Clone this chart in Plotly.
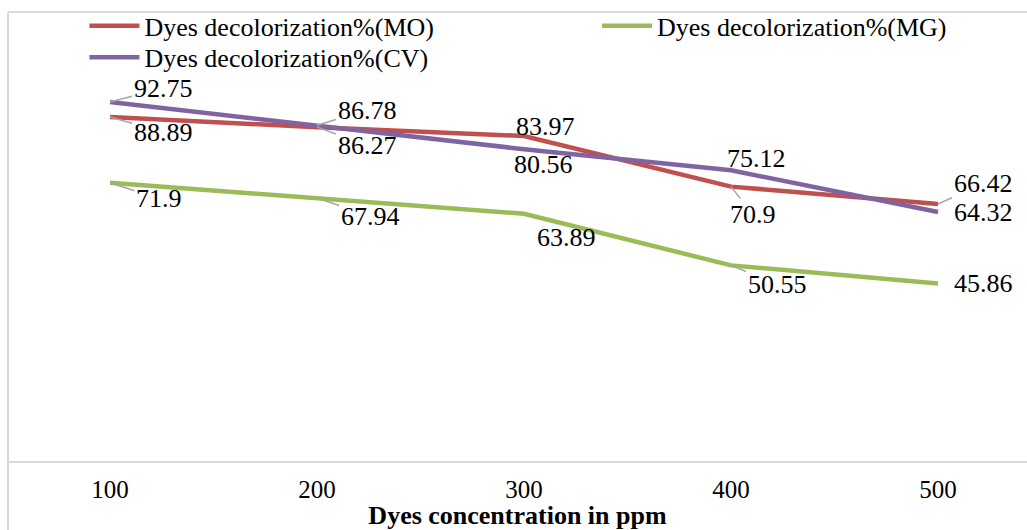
import plotly.graph_objects as go

concentration = [100, 200, 300, 400, 500]
mo_values = [88.89, 86.27, 83.97, 70.9, 66.42]
mg_values = [71.9, 67.94, 63.89, 50.55, 45.86]
cv_values = [92.75, 86.78, 80.56, 75.12, 64.32]
tick_labels = ["100", "200", "300", "400", "500"]

series_names = ["Dyes decolorization%(MO)", "Dyes decolorization%(MG)", "Dyes decolorization%(CV)"]
colors = ["#c0504d", "#9bbb59", "#8064a2"]
legend_ids = ["legend", "legend2", "legend3"]

FONT = "Liberation Serif, Times New Roman, serif"

fig = go.Figure()
for name, vals, col, lg in zip(series_names, [mo_values, mg_values, cv_values], colors, legend_ids):
    fig.add_trace(go.Scatter(x=concentration, y=vals, mode="lines", name=name, legend=lg,
                             line=dict(color=col, width=4.5), hoverinfo="skip"))

# label placement: (series values, index, ax, ay, leader)
label_specs = [
    (cv_values, 0, 53, -14, True),
    (mo_values, 0, 53, 15, True),
    (mg_values, 0, 49, 16, True),
    (cv_values, 1, 50, -15, True),
    (mo_values, 1, 50, 18, True),
    (mg_values, 1, 53, 18, True),
    (mo_values, 2, 21, -10, False),
    (cv_values, 2, 19, 15, False),
    (mg_values, 2, 42, 24, False),
    (cv_values, 3, 25, -12, False),
    (mo_values, 3, 22, 28, True),
    (mg_values, 3, 46, 19, True),
    (mo_values, 4, 45, -20, True),
    (cv_values, 4, 45, 0, False),
    (mg_values, 4, 45, 0, False),
]
for vals, i, ax, ay, leader in label_specs:
    if leader:
        fig.add_annotation(x=concentration[i], y=vals[i], text=f"{vals[i]:g}",
                           showarrow=True, arrowhead=0, arrowwidth=1.5, arrowcolor="#a6a6a6",
                           ax=ax, ay=ay, standoff=0, startstandoff=0,
                           font=dict(family=FONT, size=26, color="#000000"))
    else:
        fig.add_annotation(x=concentration[i], y=vals[i], text=f"{vals[i]:g}",
                           showarrow=False, xshift=ax, yshift=-ay,
                           font=dict(family=FONT, size=26, color="#000000"))

legend_font = dict(family=FONT, size=26, color="#000000")
common_legend = dict(orientation="v", xanchor="left", yanchor="top", font=legend_font,
                     bgcolor="rgba(0,0,0,0)", tracegroupgap=0, itemwidth=50)
fig.update_layout(
    width=1027, height=530,
    margin=dict(l=8, r=0, t=74, b=69, autoexpand=False),
    paper_bgcolor="white", plot_bgcolor="white",
    showlegend=True,
    legend=dict(x=0.075, y=1.185, **common_legend),
    legend2=dict(x=0.578, y=1.185, **common_legend),
    legend3=dict(x=0.075, y=1.104, **common_legend),
    xaxis=dict(range=[50.7, 543], tickvals=concentration, ticktext=tick_labels,
               showgrid=False, zeroline=False, showline=True, linecolor="#d9d9d9", linewidth=2,
               ticks="", ticklabelstandoff=5,
               tickfont=dict(family=FONT, size=25, color="#000000"),
               title=dict(text="<b>Dyes concentration in ppm</b>", standoff=5,
                          font=dict(family=FONT, size=26, color="#000000"))),
    yaxis=dict(range=[0, 100], visible=False, showgrid=False, zeroline=False),
)

fig.add_shape(type="line", xref="paper", yref="paper", x0=0, x1=0, y0=-0.25, y1=1.16,
              line=dict(color="#d9d9d9", width=2))
fig.add_shape(type="line", xref="paper", yref="paper", x0=0, x1=1.02, y0=1.16, y1=1.16,
              line=dict(color="#d9d9d9", width=2))

fig.write_html("out.html")
